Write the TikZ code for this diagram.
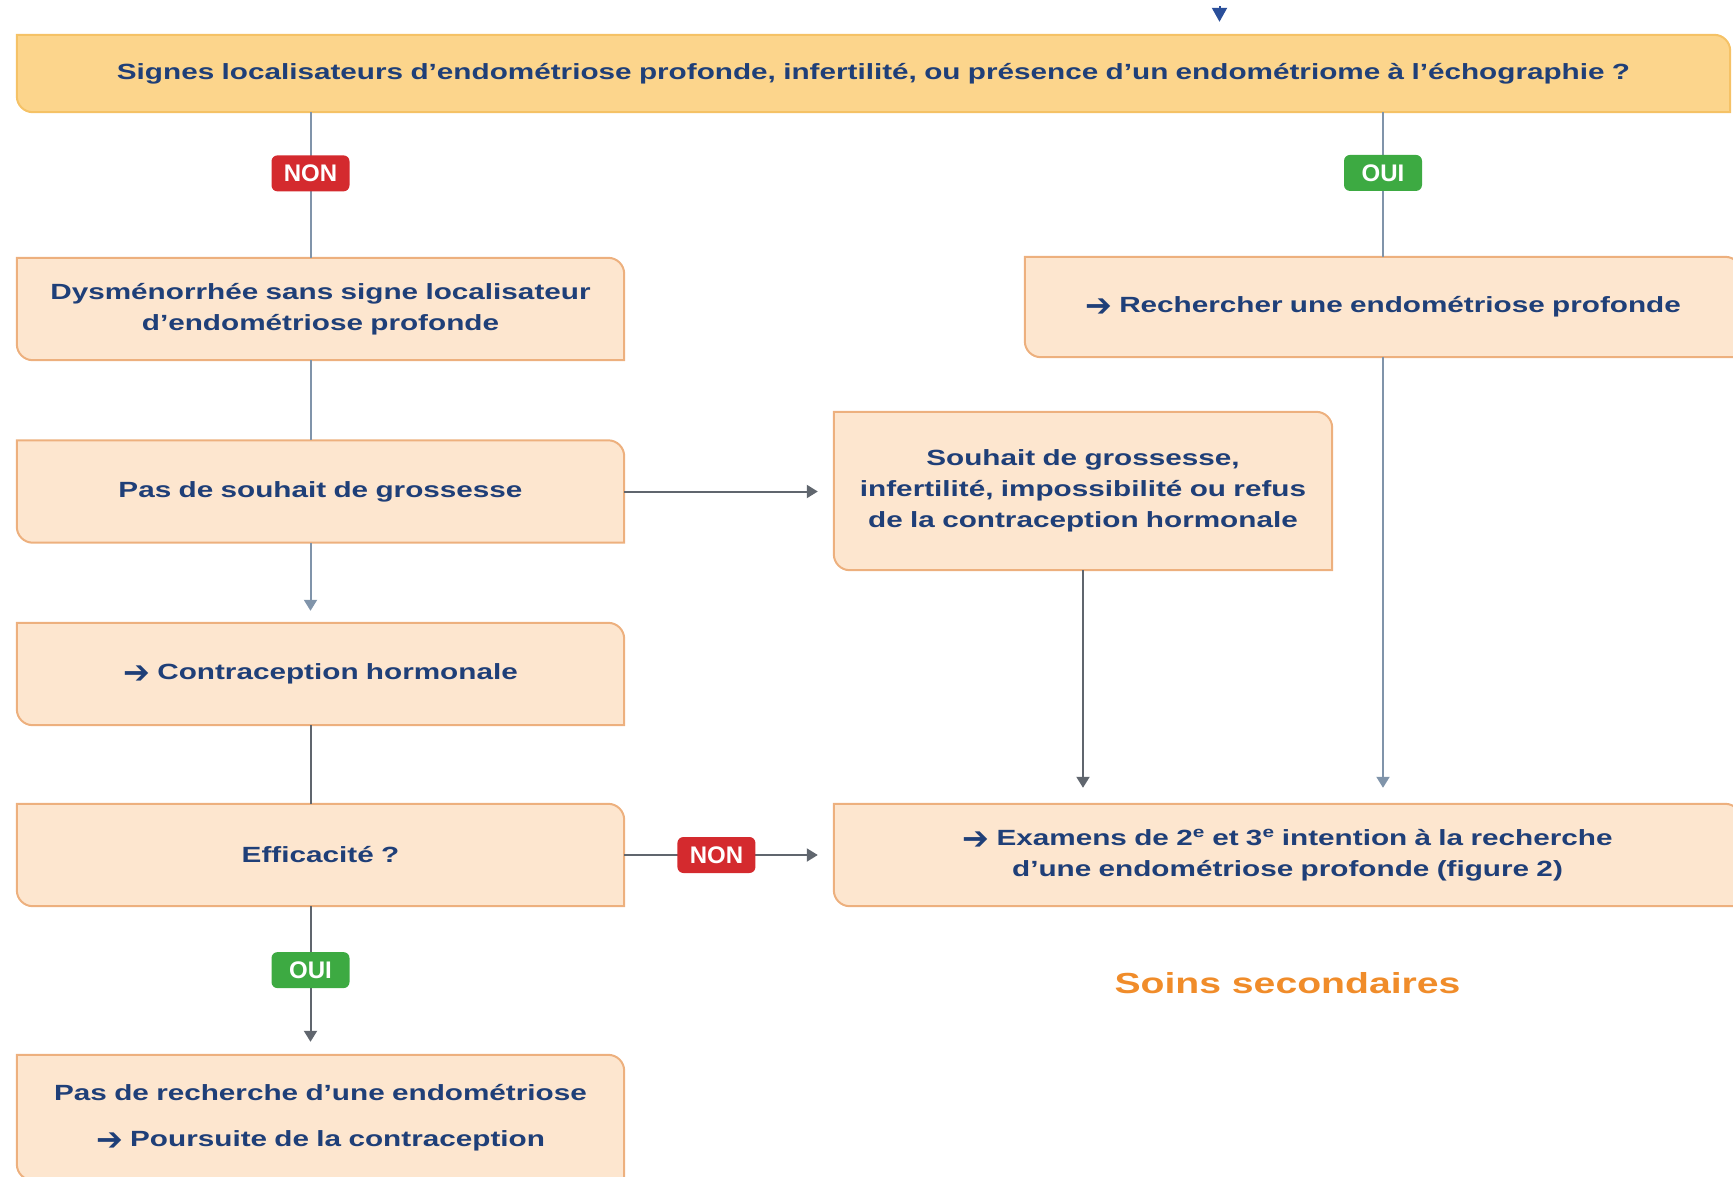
\documentclass[tikz,border=0pt]{standalone}
\usepackage{fontspec}
\setmainfont{Liberation Sans}
\newfontfamily\widefont[FakeStretch=1.35]{Liberation Sans}
\newfontfamily\arrowfont{DejaVu Sans}
\newcommand{\goto}{\raisebox{-4pt}[0pt][0pt]{\arrowfont\bfseries\fontsize{32}{31}\selectfont ➔}}
\usetikzlibrary{positioning}
\usetikzlibrary{arrows.meta}
\usetikzlibrary{backgrounds}
\definecolor{navy}{HTML}{1F3F78}
\definecolor{peach}{HTML}{FDE6CF}
\definecolor{peachline}{HTML}{EDB07E}
\definecolor{sand}{HTML}{FCD58C}
\definecolor{sandline}{HTML}{F5C266}
\definecolor{wire}{HTML}{8094AA}
\definecolor{darkwire}{HTML}{60666E}
\definecolor{topblue}{HTML}{2A4F9A}
\definecolor{nonred}{HTML}{D42A2E}
\definecolor{ouigreen}{HTML}{3DAA42}
\definecolor{soinsorange}{HTML}{F08C2A}
\tikzset{box/.style={%
        text width=#1,
        align=center,
        inner sep=0pt,
        minimum height=102pt,
        text=navy,
        font=\widefont\fontsize{22}{31}\selectfont\bfseries
    },
    box/.default=607pt,
    non/.style={%
        fill=nonred,
        text=white,
        rounded corners=6pt,
        minimum width=78pt,
        minimum height=36pt,
        inner sep=0pt,
        font=\fontsize{24}{24}\selectfont\bfseries
    },
    oui/.style={non, fill=ouigreen},
    link/.style={line width=2pt, draw=wire},
    arrow/.style={link, -{Triangle[width=13pt,length=11pt]}}
}

\begin{document}
\begin{tikzpicture}[x=1pt,y=-1pt]
    \useasboundingbox (0,0) rectangle (1733,1176);
    \node [box=1713pt, minimum height=77pt] (q) at (873.5,73.5)
        {Signes localisateurs d’endométriose profonde, infertilité, ou présence d’un endométriome à l’échographie ?};
    \node [box] (dys) at (320.5,309) {Dysménorrhée sans signe localisateur\\d’endométriose profonde};
    \node [box=716pt, minimum height=100pt] (rech) at (1383,307) {\goto{} Rechercher une endométriose profonde};
    \node [box] (pas) at (320.5,491.5) {Pas de souhait de grossesse};
    \node [box=498pt, minimum height=158pt] (souhait) at (1083,491)
        {Souhait de grossesse,\\infertilité, impossibilité ou refus\\de la contraception hormonale};
    \node [box] (contr) at (320.5,674) {\goto{} Contraception hormonale};
    \node [box] (eff) at (320.5,855) {Efficacité ?};
    \node [box=907pt] (exam) at (1287.5,855)
        {\goto{} Examens de 2\textsuperscript{e} et 3\textsuperscript{e} intention à la recherche\\d’une endométriose profonde (figure 2)};
    \node [box, minimum height=125pt] (last) at (320.5,1117.5)
        {Pas de recherche d’une endométriose\\[15pt]\goto{} Poursuite de la contraception};
    \node [text=soinsorange, font=\widefont\fontsize{29}{29}\selectfont\bfseries] (soins) at (1287.5,983)
        {Soins secondaires};

    % leaf shaped frames behind the texts
    \begin{scope}[on background layer]
        \foreach \n/\f/\d in {q/sand/sandline, dys/peach/peachline, rech/peach/peachline,
                pas/peach/peachline, souhait/peach/peachline, contr/peach/peachline,
                eff/peach/peachline, exam/peach/peachline, last/peach/peachline}
            \filldraw [fill=\f, draw=\d, line width=2pt]
                (\n.north west) -- ([xshift=-16pt]\n.north east)
                arc [start angle=90, end angle=0, radius=16pt]
                -- (\n.south east) -- ([xshift=16pt]\n.south west)
                arc [start angle=270, end angle=180, radius=16pt] -- cycle;
    \end{scope}

    \coordinate (colL) at (310.5,0);
    \coordinate (entry) at (1219.5,6);
    \draw [line width=2pt, draw=topblue, -{Triangle[width=15pt,length=14pt]}, shorten >=13pt]
        (entry) -- (q.north -| entry);
    \draw [link] (q.south -| colL) -- node [non, pos=0.42] (noA) {NON} (dys.north -| colL);
    \draw [link] (q.south -| rech) -- node [oui, pos=0.42] (ouiA) {OUI} (rech.north);
    \draw [link] (dys.south -| colL) -- (pas.north -| colL);
    \draw [arrow, shorten >=12pt] (pas.south -| colL) -- (contr.north -| colL);
    \draw [link, draw=darkwire] (contr.south -| colL) -- (eff.north -| colL);
    \draw [arrow, draw=darkwire, shorten >=13pt] (eff.south -| colL)
        -- node [oui, pos=0.43] (ouiB) {OUI} (last.north -| colL);
    \draw [arrow, draw=darkwire, shorten >=16pt] (pas.east) -- (souhait.west |- pas.east);
    \draw [arrow, draw=darkwire, shorten >=16pt] (eff.east) -- node [non, pos=0.44] (noB) {NON} (exam.west);
    \draw [arrow, draw=darkwire, shorten >=16pt] (souhait.south) -- (exam.north -| souhait.south);
    \draw [arrow, shorten >=16pt] (rech.south) -- (exam.north -| rech.south);
\end{tikzpicture}
\end{document}
